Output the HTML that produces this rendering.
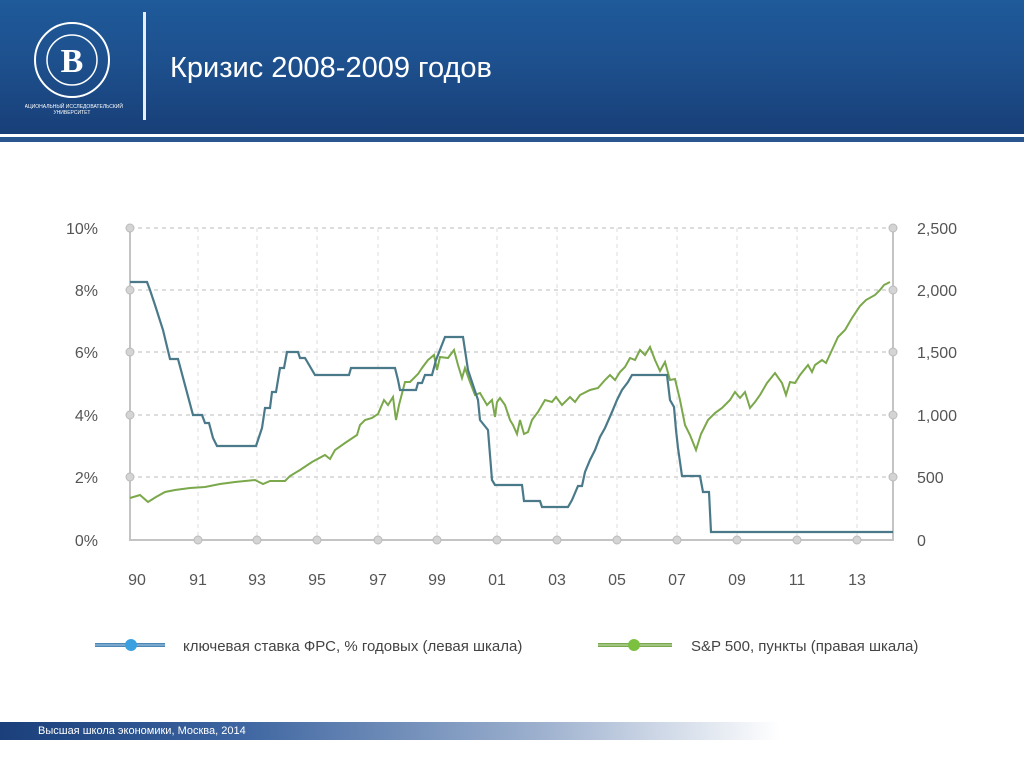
<!DOCTYPE html>
<html><head><meta charset="utf-8"><style>
body{margin:0;width:1024px;height:767px;overflow:hidden;background:#fff;font-family:"Liberation Sans","DejaVu Sans",sans-serif;position:relative}
.hdr{position:absolute;left:0;top:0;width:1024px;height:134px;background:linear-gradient(180deg,#1f5a9a 0%,#1d4f8c 50%,#183f78 100%)}
.s1{position:absolute;left:0;top:134px;width:1024px;height:4px;background:#fff}
.s2{position:absolute;left:0;top:137px;width:1024px;height:5px;background:#2a5690}
.title{position:absolute;left:170px;top:52px;color:#fff;font-size:29px}
.vl{position:absolute;left:143px;top:12px;width:3px;height:108px;background:#e8eef6}
.foot{position:absolute;left:0;top:722px;width:780px;height:18px;background:linear-gradient(90deg,#1a3f7a 0%,#3c64a0 30%,#9fb2cf 70%,rgba(255,255,255,0) 100%)}
.foot span{position:absolute;left:38px;top:3px;color:#fff;font-size:11px}
</style></head><body>
<div class="hdr"></div><div class="s1"></div><div class="s2"></div>
<div class="vl"></div>
<svg style="position:absolute;left:25px;top:10px" width="100" height="110">
<circle cx="47" cy="50" r="37" fill="none" stroke="#fff" stroke-width="2"/>
<circle cx="47" cy="50" r="25" fill="none" stroke="#fff" stroke-width="1.5"/>
<text x="47" y="62" fill="#fff" font-size="34" font-family="Liberation Serif" text-anchor="middle" font-weight="bold">В</text>
<text x="47" y="98" fill="#fff" font-size="5" text-anchor="middle">НАЦИОНАЛЬНЫЙ ИССЛЕДОВАТЕЛЬСКИЙ</text>
<text x="47" y="104" fill="#fff" font-size="5" text-anchor="middle">УНИВЕРСИТЕТ</text>
</svg>
<div class="title">Кризис 2008-2009 годов</div>
<svg style="position:absolute;left:0;top:0" width="1024" height="767" font-family="Liberation Sans,DejaVu Sans,sans-serif">
<g stroke="#bbb" stroke-dasharray="4,4" stroke-width="1">
<line x1="130" y1="228" x2="893" y2="228"/><line x1="130" y1="290" x2="893" y2="290"/>
<line x1="130" y1="352" x2="893" y2="352"/><line x1="130" y1="415" x2="893" y2="415"/>
<line x1="130" y1="477" x2="893" y2="477"/>
</g>
<g stroke="#ddd" stroke-dasharray="4,4" stroke-width="1">
<line x1="198" y1="228" x2="198" y2="540"/><line x1="257" y1="228" x2="257" y2="540"/>
<line x1="317" y1="228" x2="317" y2="540"/><line x1="378" y1="228" x2="378" y2="540"/>
<line x1="437" y1="228" x2="437" y2="540"/><line x1="497" y1="228" x2="497" y2="540"/>
<line x1="557" y1="228" x2="557" y2="540"/><line x1="617" y1="228" x2="617" y2="540"/>
<line x1="677" y1="228" x2="677" y2="540"/><line x1="737" y1="228" x2="737" y2="540"/>
<line x1="797" y1="228" x2="797" y2="540"/><line x1="857" y1="228" x2="857" y2="540"/>
</g>
<g stroke="#c4c4c4" stroke-width="2" fill="none"><polyline points="130,228 130,540 893,540 893,228"/></g>
<g fill="#d4d4d4" stroke="#bbb">
<circle cx="130" cy="228" r="4"/><circle cx="130" cy="290" r="4"/><circle cx="130" cy="352" r="4"/><circle cx="130" cy="415" r="4"/><circle cx="130" cy="477" r="4"/>
<circle cx="893" cy="228" r="4"/><circle cx="893" cy="290" r="4"/><circle cx="893" cy="352" r="4"/><circle cx="893" cy="415" r="4"/><circle cx="893" cy="477" r="4"/>
<circle cx="198" cy="540" r="4"/><circle cx="257" cy="540" r="4"/><circle cx="317" cy="540" r="4"/><circle cx="378" cy="540" r="4"/><circle cx="437" cy="540" r="4"/><circle cx="497" cy="540" r="4"/><circle cx="557" cy="540" r="4"/><circle cx="617" cy="540" r="4"/><circle cx="677" cy="540" r="4"/><circle cx="737" cy="540" r="4"/><circle cx="797" cy="540" r="4"/><circle cx="857" cy="540" r="4"/>
</g>
<g fill="#555" font-size="16" text-anchor="end">
<text x="98" y="234">10%</text><text x="98" y="296">8%</text><text x="98" y="358">6%</text><text x="98" y="421">4%</text><text x="98" y="483">2%</text><text x="98" y="546">0%</text>
</g>
<g fill="#555" font-size="16">
<text x="917" y="234">2,500</text><text x="917" y="296">2,000</text><text x="917" y="358">1,500</text><text x="917" y="421">1,000</text><text x="917" y="483">500</text><text x="917" y="546">0</text>
</g>
<g fill="#555" font-size="16" text-anchor="middle">
<text x="137" y="585">90</text><text x="198" y="585">91</text><text x="257" y="585">93</text><text x="317" y="585">95</text><text x="378" y="585">97</text><text x="437" y="585">99</text><text x="497" y="585">01</text><text x="557" y="585">03</text><text x="617" y="585">05</text><text x="677" y="585">07</text><text x="737" y="585">09</text><text x="797" y="585">11</text><text x="857" y="585">13</text>
</g>
<polyline fill="none" stroke="#7aa84a" stroke-width="2" points="130,498 140,495 148,502 156,497 165,492 175,490 190,488 205,487 220,484 235,482 255,480 263,484 270,481 285,481 290,476 300,470 312,462 325,455 330,459 335,450 345,443 357,435 360,425 365,420 372,418 378,414 384,400 388,405 393,397 396,420 399,405 405,382 410,382 418,374 422,368 428,360 434,355 437,370 440,357 448,358 454,350 458,365 462,378 465,368 470,382 475,395 480,393 487,405 492,400 495,417 497,402 500,398 505,405 510,420 513,425 517,434 520,420 524,434 528,432 532,420 538,412 545,400 552,402 556,397 562,405 570,397 575,402 580,395 590,390 598,388 605,380 610,375 615,380 620,372 625,367 630,358 635,360 640,350 645,355 650,347 655,360 660,371 665,362 670,380 675,379 680,400 685,425 690,435 696,450 701,434 708,420 715,413 722,408 730,400 735,392 740,398 745,392 750,408 755,402 760,395 767,383 775,373 782,383 786,395 790,382 795,383 800,375 808,365 812,372 815,365 822,360 826,363 832,350 838,337 845,330 852,318 860,306 866,300 875,295 880,290 884,285 890,282"/>
<polyline fill="none" stroke="#4a7a8a" stroke-width="2.2" points="130,282 147,282 150,290 155,305 163,330 170,359 178,359 193,415 202,415 205,423 209,423 213,438 217,446 256,446 262,428 265,408 270,408 272,392 276,392 280,368 284,368 287,352 298,352 300,358 305,358 315,375 349,375 351,368 395,368 398,380 400,390 416,390 418,383 422,383 425,375 432,375 436,360 445,337 463,337 468,370 478,400 480,420 488,430 492,480 495,485 522,485 524,501 540,501 542,507 568,507 572,500 578,486 582,486 585,472 590,460 595,450 600,437 605,428 612,412 617,400 622,390 628,382 632,375 667,375 670,400 674,407 676,430 678,448 682,476 700,476 703,492 709,492 711,532 893,532"/>
<line x1="95" y1="645" x2="165" y2="645" stroke="#4b88b8" stroke-width="4"/><line x1="95" y1="645" x2="165" y2="645" stroke="#a8c8e0" stroke-width="1"/>
<circle cx="131" cy="645" r="6" fill="#3aa0e0"/>
<text x="183" y="651" fill="#444" font-size="15">ключевая ставка ФРС, % годовых (левая шкала)</text>
<line x1="598" y1="645" x2="672" y2="645" stroke="#7aaa50" stroke-width="4"/><line x1="598" y1="645" x2="672" y2="645" stroke="#c8e0b0" stroke-width="1"/>
<circle cx="634" cy="645" r="6" fill="#7cc040"/>
<text x="691" y="651" fill="#444" font-size="15">S&amp;P 500, пункты (правая шкала)</text>
</svg>
<div class="foot"><span>Высшая школа экономики, Москва, 2014</span></div>
</body></html>
